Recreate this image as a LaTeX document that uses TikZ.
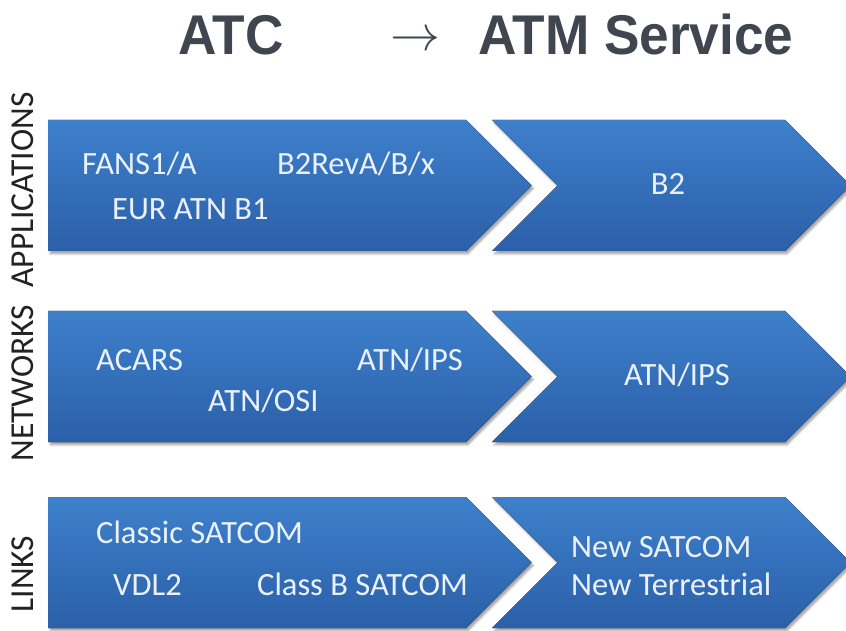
\documentclass[tikz,border=0pt]{standalone}
\usepackage{fontspec}
\setmainfont{Carlito}
\newfontfamily\headfont{Liberation Sans}
\usetikzlibrary{shadows.blur}
\definecolor{chevtop}{HTML}{3E80CB}
\definecolor{chevbot}{HTML}{2B5FA9}
\definecolor{chevtext}{HTML}{EAF1FA}
\definecolor{headgray}{HTML}{3F4650}
\definecolor{sidegray}{HTML}{222222}
\tikzset{
  chev/.style={top color=chevtop, bottom color=chevbot, draw=none,
    blur shadow={shadow xshift=2pt, shadow yshift=-3pt, shadow blur steps=6, shadow opacity=35}},
  item/.style={text=chevtext, font=\fontsize{32.5}{36}\selectfont, inner sep=0pt, anchor=base west},
  itemc/.style={item, anchor=base},
  side/.style={text=sidegray, font=\fontsize{33.5}{36}\selectfont, inner sep=0pt, rotate=90, anchor=base},
  head/.style={text=headgray, font=\headfont\bfseries\fontsize{56}{60}\selectfont, inner sep=0pt, anchor=base west}
}
\begin{document}
\begin{tikzpicture}[x=1pt,y=1pt]
\useasboundingbox (0,0) rectangle (846,630);

% title
\node[head] (hatc) at (178,575) {\scalebox{0.95}[1]{ATC}};
\node[text=headgray, inner sep=0pt, anchor=base] (harrow) at (415,579) {\scalebox{5}{$\rightarrow$}};
\node[head] (hatm) at (478,575) {\scalebox{0.95}[1]{ATM Service}};

% chevron rows: top and bottom edge of each row
\foreach \t/\b in {510/379, 319/188, 133/2}{
  \pgfmathsetmacro{\m}{(\t+\b)/2}
  \pgfmathsetmacro{\h}{(\t-\b)/2}
  \fill[chev] (48,\t) -- (466,\t) -- ({466+\h},\m) -- (466,\b) -- (48,\b) -- cycle;
  \fill[chev] (492,\t) -- (785,\t) -- ({785+\h},\m) -- (785,\b) -- (492,\b) -- ({492+\h},\m) -- cycle;
}

% side labels
\node[side] (sapp) at (33,440) {APPLICATIONS};
\node[side] (snet) at (33,247) {NETWORKS};
\node[side] (slnk) at (33,56) {LINKS};

% applications
\node[item] (fans) at (82,455) {FANS1/A};
\node[item] (b2rev) at (277,455) {B2RevA/B/x};
\node[item] (eur) at (112,410) {EUR ATN B1};
\node[itemc] (b2) at (668,435) {B2};

% networks
\node[item] (acars) at (96,259) {ACARS};
\node[item] (ips) at (357,259) {ATN/IPS};
\node[item] (osi) at (208,219) {ATN/OSI};
\node[itemc] (ipsn) at (677,245) {ATN/IPS};

% links
\node[item] (csat) at (96,87) {Classic SATCOM};
\node[item] (vdl) at (113,35) {VDL2};
\node[item] (cbsat) at (257,35) {Class B SATCOM};
\node[item] (nsat) at (571,73) {New SATCOM};
\node[item] (nter) at (571,35) {New Terrestrial};
\end{tikzpicture}
\end{document}
